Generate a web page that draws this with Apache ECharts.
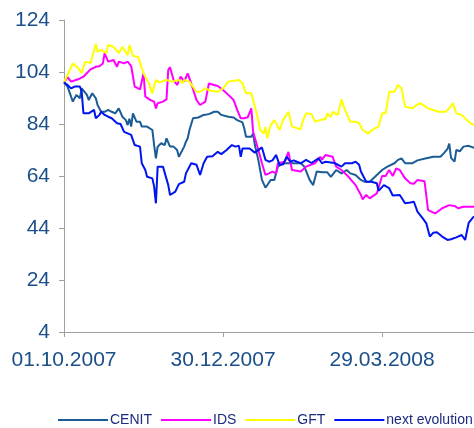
<!DOCTYPE html>
<html>
<head>
<meta charset="utf-8">
<script src="https://cdn.jsdelivr.net/npm/echarts@6/dist/echarts.min.js"></script>
<style>
  html, body { margin: 0; padding: 0; background: #fff; }
  #chart { width: 474px; height: 428px; }
</style>
</head>
<body>
<div id="chart"></div>
<script>
// x values are days since 01.10.2007
var startDate = [2007, 9, 1];
var xTicks = [0, 90, 180];
var yTicks = [4, 24, 44, 64, 84, 104, 124];

var cenit = [
  [0, 100], [2, 98.4], [5, 92.6], [7, 95.2], [9, 93.9], [10, 97.7], [13, 95.2], [14, 93.2],
  [16, 95.8], [18, 93.9], [19, 91.3], [21, 88.7], [23, 88.7], [25, 89.4], [27, 88.7], [29, 88.1],
  [31, 90], [33, 86.8], [35, 85.5], [36, 83.6], [37, 86], [38, 83], [39, 88.1], [41, 84.9],
  [43, 84.9], [44, 83], [47, 83], [50, 81.7], [51, 75.9], [52, 70.8], [53, 75.3], [55, 76.6],
  [57, 75.9], [58, 78.5], [60, 75.3], [62, 75.3], [64, 74], [65, 71.4], [66, 71.4], [68, 75.3],
  [69, 77.2], [70, 78.5], [71, 81.7], [73, 86.2], [76, 86.5], [79, 87.5], [82, 87.8], [85, 88.7],
  [87, 88.7], [89, 87.5], [93, 86.8], [96, 86.5], [98, 85.5], [101, 84.6], [102, 82.3], [103, 79.1],
  [106, 79.1], [107, 80.4], [108, 75.9], [110, 70], [112, 62.5], [114, 59.5], [116, 61.5], [117, 62.5],
  [119, 62.5], [121, 67.6], [124, 68.9], [129, 68.9], [134, 68.9], [136, 67.6], [139, 62.5], [141, 60.5],
  [143, 65.7], [146, 65.4], [149, 65.4], [151, 63.7], [154, 66.3], [157, 65], [160, 66.3], [162, 65],
  [165, 64.4], [168, 62.5], [170, 61.8], [173, 61.8], [176, 63.7], [180, 66.3], [183, 67.6], [184, 67.6],
  [187, 68.9], [189, 70.2], [191, 70.8], [193, 68.9], [197, 68.9], [198, 68.2], [200, 70], [205, 70.8],
  [209, 71.4], [213, 71.4], [215, 72.8], [217, 74.4], [218, 76.5], [219, 71], [221, 69.5], [222, 74],
  [224, 73.5], [226, 75.3], [229, 75.6], [232, 74.8]
];

var ids = [
  [0, 100], [2, 102], [4, 100.3], [8, 101.2], [11, 102.2], [15, 105], [18, 106], [20, 106.2],
  [22, 107.3], [23, 111.2], [25, 108], [28, 108.6], [30, 106], [31, 108], [34, 107.3], [36, 108],
  [38, 106.3], [40, 98.4], [43, 97.3], [45, 103.5], [46, 94.5], [49, 93.2], [51, 92.6], [52, 90],
  [53, 92], [56, 92.6], [58, 93.5], [59, 104.8], [60, 105.8], [62, 100.9], [64, 99], [66, 102.2],
  [68, 100.3], [70, 103.5], [72, 99.6], [75, 93.2], [77, 91.3], [80, 92.6], [82, 99.6], [85, 99],
  [87, 98.6], [90, 97.1], [93, 95.2], [96, 93.2], [98, 89.4], [100, 86.2], [102, 86.2], [104, 86.6],
  [106, 90], [107, 81], [110, 74], [112, 68.9], [114, 64.4], [116, 65], [118, 65.7], [120, 65],
  [121, 68.9], [125, 69.5], [127, 73.3], [129, 66.3], [134, 65.7], [137, 67.6], [142, 68.9], [145, 71.4],
  [146, 70.3], [148, 72.1], [152, 71.4], [154, 67.6], [157, 66.3], [161, 63.7], [165, 60.5], [168, 56.7],
  [169, 55], [171, 56.7], [173, 55.4], [177, 57.3], [178, 58], [180, 64], [182, 64], [184, 66.3],
  [186, 64], [188, 66.9], [190, 66.3], [193, 63.1], [196, 61.2], [198, 61], [200, 62.5], [204, 62],
  [206, 50.9], [210, 49.6], [214, 51.6], [218, 52.8], [221, 52.5], [223, 51.6], [226, 52.2], [232, 52.2]
];

var gft = [
  [0, 100], [5, 107.3], [8, 105.5], [10, 103.6], [12, 108], [15, 107.4], [18, 114.8], [19, 111.8],
  [21, 112.5], [24, 111.2], [25, 114.4], [28, 113.7], [29, 114.4], [31, 111.3], [33, 113.7], [36, 110.5],
  [37, 114.4], [39, 110.2], [42, 109.8], [45, 103.5], [48, 99.6], [50, 95.8], [52, 100.9], [54, 100],
  [58, 100.9], [61, 100.3], [65, 100.9], [67, 99.8], [68, 100.9], [71, 100.3], [75, 96.4], [77, 96.4],
  [80, 97.7], [83, 96.8], [87, 96.4], [90, 97.7], [93, 100.3], [99, 100.9], [101, 99.6], [103, 95.8],
  [106, 95.8], [109, 88.1], [111, 81.7], [113, 80.4], [114, 82.8], [115, 78.5], [117, 83.6], [119, 85.5],
  [120, 85.5], [122, 81.7], [124, 85.5], [127, 88.7], [129, 83], [134, 82], [135, 84.9], [137, 88.1],
  [140, 87.8], [142, 84.9], [145, 85.5], [148, 85.9], [149, 88.1], [151, 86.7], [152, 88.7], [155, 87.5],
  [157, 93.5], [159, 89.4], [162, 84.9], [165, 84.9], [167, 84.3], [169, 81.7], [172, 80.4], [175, 82],
  [178, 83], [180, 88.1], [182, 88.1], [183, 88.1], [184, 96.4], [187, 96.4], [189, 99], [191, 97.7],
  [193, 90.7], [197, 90], [201, 92], [203, 91.4], [206, 90], [209, 89.4], [212, 88.7], [216, 88.7],
  [218, 90], [220, 92], [222, 88.1], [225, 87.5], [228, 85.5], [230, 84.3], [232, 83.6]
];

var nextEvolution = [
  [0, 100], [2, 99], [4, 97.7], [6, 98.4], [9, 98.4], [10, 96.5], [11, 88.1], [14, 88.1],
  [15, 88.1], [17, 89.4], [18, 86.2], [20, 87.5], [21, 88.7], [23, 87.5], [25, 86.8], [27, 86.2],
  [30, 84.3], [32, 84], [34, 81], [36, 80.4], [38, 79.8], [40, 75.9], [43, 75.3], [44, 68.9],
  [46, 66.3], [47, 63.7], [50, 63.1], [51, 59.9], [52, 53.5], [53, 67.6], [56, 67.6], [57, 67],
  [59, 60.5], [60, 56.7], [63, 58], [65, 60.9], [68, 61.8], [69, 65], [72, 68.9], [75, 68.3],
  [77, 64.4], [79, 68.9], [81, 71.4], [84, 71.6], [87, 73.3], [89, 72.4], [92, 74], [95, 75.9],
  [97, 75.3], [99, 75.6], [100, 71.4], [101, 74.6], [105, 74.6], [108, 73], [112, 75], [114, 70.2],
  [116, 69.5], [118, 70], [120, 72.1], [122, 68.2], [124, 68.5], [126, 71.4], [128, 69.5], [130, 70],
  [134, 68.9], [137, 70.2], [140, 69], [144, 70.8], [146, 68.9], [148, 69.5], [153, 69], [157, 67.6],
  [159, 68.9], [163, 68.9], [165, 69.5], [167, 68.3], [168, 65.7], [171, 61.8], [174, 61.8], [177, 61.2],
  [178, 58.3], [181, 60.5], [184, 59.3], [186, 56.5], [190, 56.7], [191, 56.5], [193, 53.5], [196, 53.8],
  [198, 54.1], [200, 50.3], [203, 47.7], [205, 45.8], [207, 40.7], [209, 42.2], [211, 42.4], [214, 40.7],
  [217, 39.4], [219, 39.7], [222, 40.4], [225, 41.3], [227, 39.4], [229, 46], [231, 47.7], [232, 48.5]
];

var seriesNames = ['CENIT', 'IDS', 'GFT', 'next evolution'];
var seriesColors = ['#1B5C96', '#FF00FF', '#FFFF00', '#0014F0'];
var seriesData = [cenit, ids, gft, nextEvolution];

function dayLabel(v) {
  var d = new Date(startDate[0], startDate[1], startDate[2] + v);
  var dd = ('0' + d.getDate()).slice(-2);
  var mm = ('0' + (d.getMonth() + 1)).slice(-2);
  return dd + '.' + mm + '.' + d.getFullYear();
}

var chart = echarts.init(document.getElementById('chart'));
var labelColor = '#1B4F8A';
var font = "'Liberation Sans', Arial, sans-serif";

chart.setOption({
  animation: false,
  backgroundColor: '#fff',
  grid: { left: 64, right: 0, top: 20, bottom: 96 },
  legend: {
    data: seriesNames,
    left: 58,
    top: 413,
    width: 700,
    padding: 0,
    icon: 'rect',
    itemWidth: 50,
    itemHeight: 2,
    itemGap: 9,
    textStyle: { fontFamily: font, fontSize: 14, color: '#1C2A80', padding: [0, 0, 0, -3] }
  },
  xAxis: {
    type: 'value',
    min: 0,
    max: 232,
    splitLine: { show: false },
    axisLine: { lineStyle: { color: '#A0A0A0', width: 1 } },
    axisTick: { show: true, length: 5, lineStyle: { color: '#A0A0A0' }, customValues: xTicks },
    axisLabel: {
      customValues: xTicks,
      formatter: dayLabel,
      margin: 18,
      color: labelColor,
      fontFamily: font,
      fontSize: 21
    }
  },
  yAxis: {
    type: 'value',
    min: 4,
    max: 124,
    splitLine: { show: false },
    axisLine: { show: true, lineStyle: { color: '#A0A0A0', width: 1 } },
    axisTick: { show: true, length: 5, lineStyle: { color: '#A0A0A0' }, customValues: yTicks },
    axisLabel: {
      customValues: yTicks,
      margin: 14,
      color: labelColor,
      fontFamily: font,
      fontSize: 21
    }
  },
  series: seriesNames.map(function (name, i) {
    return {
      name: name,
      type: 'line',
      data: seriesData[i],
      symbol: 'none',
      color: seriesColors[i],
      lineStyle: { width: 2, color: seriesColors[i] }
    };
  })
});
</script>
</body>
</html>
